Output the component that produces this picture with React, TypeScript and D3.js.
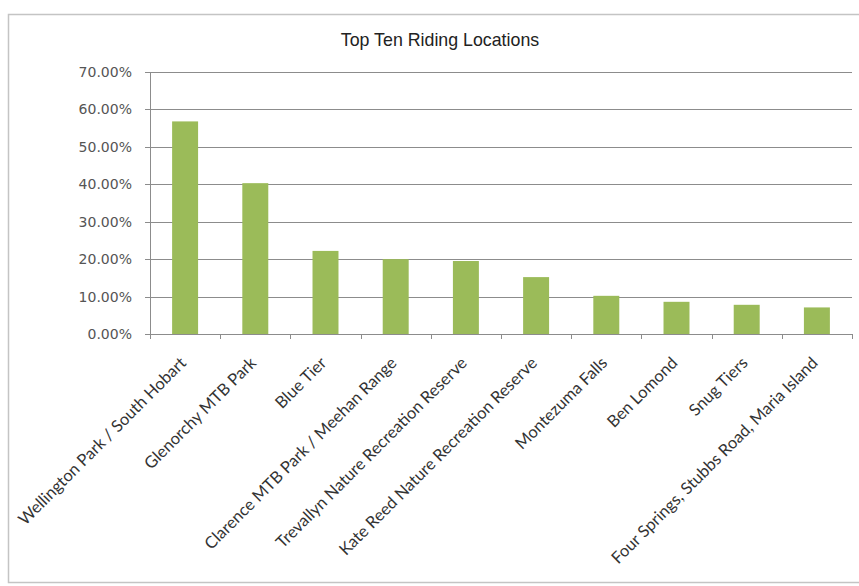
import React from "react";
import * as d3 from "d3";

const title = "Top Ten Riding Locations";
const categories = [
  "Wellington Park / South Hobart",
  "Glenorchy MTB Park",
  "Blue Tier",
  "Clarence MTB Park / Meehan Range",
  "Trevallyn Nature Recreation Reserve",
  "Kate Reed Nature Recreation Reserve",
  "Montezuma Falls",
  "Ben Lomond",
  "Snug Tiers",
  "Four Springs, Stubbs Road, Maria Island",
];
const values = [0.568, 0.403, 0.222, 0.2, 0.195, 0.152, 0.102, 0.086, 0.078, 0.071];
const yTicks = [0, 0.1, 0.2, 0.3, 0.4, 0.5, 0.6, 0.7];

const W = 859;
const H = 586;
const left = 150;
const right = 852;
const top = 72;
const bottom = 334;

export default function App() {
  const x = d3
    .scaleBand<string>()
    .domain(categories)
    .range([left, right])
    .paddingInner(0.63)
    .paddingOuter(0.315);
  const y = d3.scaleLinear().domain([0, 0.7]).range([bottom, top]);
  const fmt = d3.format(".2%");
  const step = (right - left) / categories.length;
  const gridColor = "#8c8c8c";

  return (
    <svg
      width={W}
      height={H}
      style={{ position: "absolute", left: 0, top: 0, background: "#fff" }}
    >
      <rect x={8.5} y={14.5} width={870} height={568} fill="#fff" stroke="#c4c4c4" strokeWidth={1.5} />
      <text
        x={440}
        y={46}
        textAnchor="middle"
        fontFamily="Liberation Sans, Arial, sans-serif"
        fontSize={17.8}
        fill="#222"
      >
        {title}
      </text>
      {yTicks.map((t) => (
        <g key={t}>
          {t > 0 && (
            <line x1={left} x2={right} y1={Math.round(y(t)) + 0.5} y2={Math.round(y(t)) + 0.5} stroke={gridColor} strokeWidth={1} />
          )}
          <line x1={left - 5} x2={left} y1={Math.round(y(t)) + 0.5} y2={Math.round(y(t)) + 0.5} stroke={gridColor} />
          <text
            x={132}
            y={y(t)}
            dy="0.36em"
            textAnchor="end"
            fontFamily="DejaVu Sans, sans-serif"
            fontSize={14}
            fill="#555"
          >
            {fmt(t)}
          </text>
        </g>
      ))}
      {categories.map((c, i) => (
        <rect
          key={c}
          x={x(c)}
          y={y(values[i])}
          width={x.bandwidth()}
          height={bottom - y(values[i])}
          fill="#9bbb59"
        />
      ))}
      <line x1={left + 0.5} x2={left + 0.5} y1={top} y2={bottom} stroke={gridColor} />
      <line x1={left} x2={right} y1={bottom + 0.5} y2={bottom + 0.5} stroke={gridColor} />
      {d3.range(categories.length + 1).map((i) => (
        <line
          key={i}
          x1={Math.round(left + i * step) + 0.5}
          x2={Math.round(left + i * step) + 0.5}
          y1={bottom}
          y2={bottom + 5}
          stroke={gridColor}
        />
      ))}
      {categories.map((c) => {
        const cx = (x(c) as number) + x.bandwidth() / 2;
        return (
          <text
            key={c}
            transform={`translate(${cx + 2},${bottom + 30}) rotate(-45)`}
            textAnchor="end"
            fontFamily="Lato, sans-serif"
            fontSize={16.5}
            fill="#333"
          >
            {c}
          </text>
        );
      })}
    </svg>
  );
}
